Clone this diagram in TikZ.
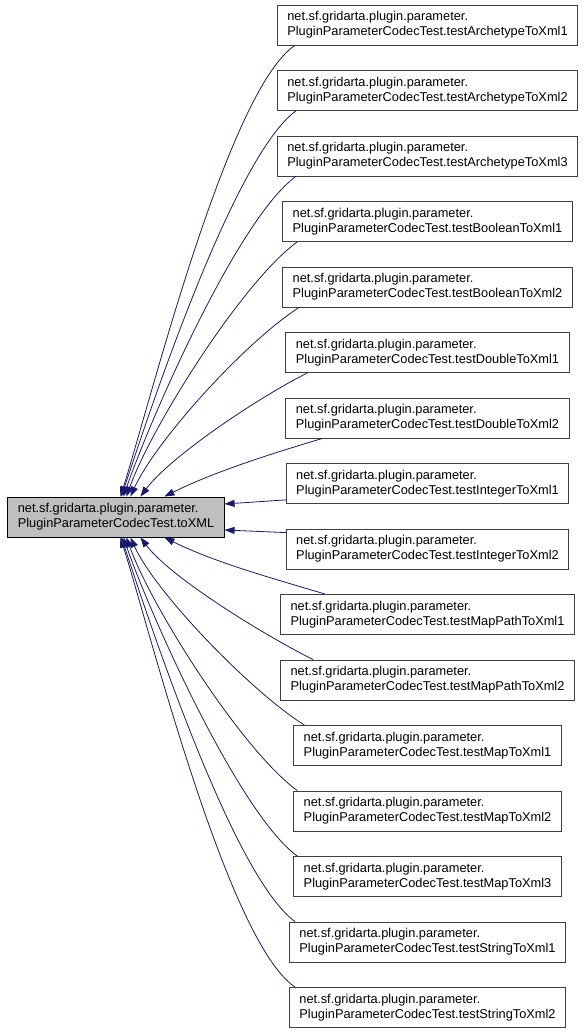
\documentclass[tikz,border=0pt]{standalone}
\usepackage{fontspec}
\setmainfont{Liberation Sans}
\usepackage{xcolor}
\usepackage{tikz}
\usetikzlibrary{arrows.meta}

\definecolor{edgeblue}{HTML}{191970}

\begin{document}
\begin{tikzpicture}[
  x=1pt, y=1pt,
  every node/.style = {font=\fontsize{12.8}{15}\selectfont},
  caller/.style     = {draw=black!75, fill=white, line width=0.8pt, align=left,
                       inner xsep=10pt, inner ysep=2pt, minimum height=40pt},
  callee/.style     = {caller, draw=black, fill=black!25},
  edge/.style       = {->, edgeblue, line width=0.8pt,
                       >={Triangle[length=10pt, width=7pt]}},
]

%% ── Frame: one unit = one pixel of the 587 x 1032 sheet ───────────────────
\useasboundingbox (0,0) rectangle (587,1032);

\def\colx{427.5}   % centre of the caller column
\def\pk{net.sf.gridarta.plugin.parameter.\\PluginParameterCodecTest}

% ── Callee ──────────────────────────────────────────────────────────────────
\node[callee] (toxml) at (116,515) {\pk.toXML};

% ── Callers (top to bottom) ────────────────────────────────────────────────
\node[caller] (arch1) at (\colx,1007.0) {\pk.testArchetypeToXml1};
\node[caller] (arch2) at (\colx, 941.5) {\pk.testArchetypeToXml2};
\node[caller] (arch3) at (\colx, 876.0) {\pk.testArchetypeToXml3};
\node[caller] (bool1) at (\colx, 810.5) {\pk.testBooleanToXml1};
\node[caller] (bool2) at (\colx, 745.0) {\pk.testBooleanToXml2};
\node[caller] (dbl1)  at (\colx, 679.5) {\pk.testDoubleToXml1};
\node[caller] (dbl2)  at (\colx, 614.0) {\pk.testDoubleToXml2};
\node[caller] (int1)  at (\colx, 548.5) {\pk.testIntegerToXml1};
\node[caller] (int2)  at (\colx, 483.0) {\pk.testIntegerToXml2};
\node[caller] (mpath1) at (\colx, 417.5) {\pk.testMapPathToXml1};
\node[caller] (mpath2) at (\colx, 352.0) {\pk.testMapPathToXml2};
\node[caller] (map1)  at (\colx, 286.5) {\pk.testMapToXml1};
\node[caller] (map2)  at (\colx, 221.0) {\pk.testMapToXml2};
\node[caller] (map3)  at (\colx, 155.5) {\pk.testMapToXml3};
\node[caller] (str1)  at (\colx,  90.0) {\pk.testStringToXml1};
\node[caller] (str2)  at (\colx,  24.5) {\pk.testStringToXml2};

% ── Edges into the top of toXML ────────────────────────────────────────────
\draw[edge] ([xshift=18pt]arch1.south west)
  .. controls +(-67,-45) and +(30,95) .. ([xshift=113pt]toxml.north west);
\draw[edge] ([xshift=19pt]arch2.south west)
  .. controls +(-62,-45) and +(28,85) .. ([xshift=114pt]toxml.north west);
\draw[edge] ([xshift=19pt]arch3.south west)
  .. controls +(-58,-42) and +(27,78) .. ([xshift=116pt]toxml.north west);
\draw[edge] ([xshift=15pt]bool1.south west)
  .. controls +(-55,-40) and +(25,70) .. ([xshift=119pt]toxml.north west);
\draw[edge] ([xshift=17pt]bool2.south west)
  .. controls +(-55,-35) and +(25,55) .. ([xshift=123pt]toxml.north west);
\draw[edge] ([xshift=22pt]dbl1.south west)
  .. controls +(-50,-25) and +(30,40) .. ([xshift=133pt]toxml.north west);
\draw[edge] ([xshift=37pt]dbl2.south west)
  .. controls +(-50,-15) and +(50,25) .. ([xshift=157pt]toxml.north west);

% ── Edges into the right side ──────────────────────────────────────────────
\draw[edge] ([yshift=4pt]int1.south west) -- ([yshift=13pt]toxml.east);
\draw[edge] ([yshift=-4pt]int2.north west) -- ([yshift=-13pt]toxml.east);

% ── Edges into the bottom ──────────────────────────────────────────────────
\draw[edge] ([xshift=45pt]mpath1.north west)
  .. controls +(-50,15) and +(50,-25) .. ([xshift=157pt]toxml.south west);
\draw[edge] ([xshift=33pt]mpath2.north west)
  .. controls +(-50,25) and +(30,-40) .. ([xshift=133pt]toxml.south west);
\draw[edge] ([xshift=11pt]map1.north west)
  .. controls +(-55,35) and +(25,-55) .. ([xshift=123pt]toxml.south west);
\draw[edge] ([xshift=4pt]map2.north west)
  .. controls +(-55,40) and +(25,-70) .. ([xshift=119pt]toxml.south west);
\draw[edge] ([xshift=4pt]map3.north west)
  .. controls +(-58,42) and +(27,-78) .. ([xshift=116pt]toxml.south west);
\draw[edge] ([xshift=6pt]str1.north west)
  .. controls +(-62,45) and +(28,-85) .. ([xshift=114pt]toxml.south west);
\draw[edge] ([xshift=6pt]str2.north west)
  .. controls +(-67,45) and +(30,-95) .. ([xshift=113pt]toxml.south west);

\end{tikzpicture}
\end{document}
